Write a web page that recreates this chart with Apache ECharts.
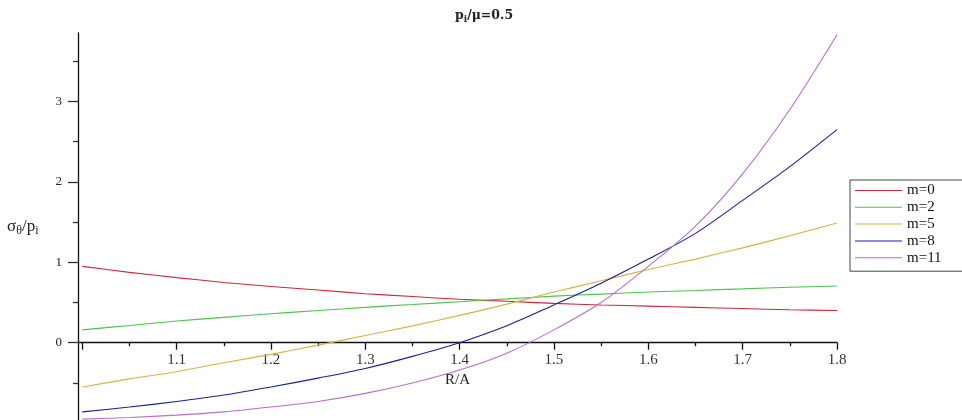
<!DOCTYPE html>
<html>
<head>
<meta charset="utf-8">
<script src="https://cdn.jsdelivr.net/npm/echarts@6/dist/echarts.min.js"></script>
<style>
  html, body { margin: 0; padding: 0; background: #fff; }
  #chart { width: 962px; height: 420px; }
</style>
</head>
<body>
<div id="chart"></div>
<script>
// Radius ratio R/A sampled along each curve
const rValues = [1.0, 1.05, 1.1, 1.15, 1.2, 1.25, 1.3, 1.35, 1.4, 1.45, 1.5, 1.55, 1.6, 1.65, 1.7, 1.75, 1.8];

// Hoop stress sigma_theta / p_i for each hardening exponent m
const m0  = [0.95, 0.875, 0.81, 0.75, 0.70, 0.655, 0.61, 0.575, 0.54, 0.515, 0.49, 0.47, 0.455, 0.44, 0.425, 0.41, 0.40];
const m2  = [0.16, 0.215, 0.27, 0.315, 0.36, 0.40, 0.44, 0.475, 0.51, 0.545, 0.58, 0.605, 0.63, 0.65, 0.67, 0.69, 0.705];
const m5  = [-0.55, -0.45, -0.36, -0.25, -0.145, -0.03, 0.09, 0.21, 0.34, 0.48, 0.63, 0.77, 0.91, 1.04, 1.18, 1.33, 1.49];
const m8  = [-0.86, -0.80, -0.73, -0.65, -0.55, -0.44, -0.32, -0.17, 0.0, 0.21, 0.47, 0.74, 1.04, 1.36, 1.77, 2.19, 2.65];
const m11 = [-0.95, -0.93, -0.90, -0.86, -0.80, -0.73, -0.63, -0.50, -0.34, -0.13, 0.16, 0.50, 0.95, 1.45, 2.10, 2.90, 3.83];

const seriesNames = ['m=0', 'm=2', 'm=5', 'm=8', 'm=11'];
const seriesValues = [m0, m2, m5, m8, m11];
const seriesColors = ['#d3263a', '#4ec24e', '#d6b244', '#1c1c9c', '#b66fcc'];

// Axis ticks and labels
const xMajorTicks = [1.0, 1.1, 1.2, 1.3, 1.4, 1.5, 1.6, 1.7, 1.8];
const xMinorTicks = [1.05, 1.15, 1.25, 1.35, 1.45, 1.55, 1.65, 1.75];
const xLabels = [1.1, 1.2, 1.3, 1.4, 1.5, 1.6, 1.7, 1.8];
const yMajorTicks = [0, 1, 2, 3];
const yMinorTicks = [-0.5, 0.5, 1.5, 2.5, 3.5];
const yLabels = [0, 1, 2, 3];

const SERIF = '"Liberation Serif", "DejaVu Serif", serif';
const TITLE_FONT = '"DejaVu Serif", "Liberation Serif", serif';
const X_MIN = 0.9955, X_MAX = 1.8;
const Y_MIN = -0.961, Y_MAX = 3.852;

// Plot frame: the curves live in grid 0; grid 1 ends exactly at the y = 0 line
// so the horizontal axis (ticks, labels and name) crosses the plot there.
const PLOT_TOP = 33, PLOT_BOTTOM = 0, PLOT_LEFT = 78, PLOT_RIGHT = 125;
const plotHeight = 420 - PLOT_TOP - PLOT_BOTTOM;
const zeroFromBottom = PLOT_BOTTOM + plotHeight * (0 - Y_MIN) / (Y_MAX - Y_MIN);

const chart = echarts.init(document.getElementById('chart'), null, { renderer: 'canvas' });

const series = seriesNames.map((name, i) => ({
  name: name,
  type: 'line',
  xAxisIndex: 0,
  yAxisIndex: 0,
  symbol: 'none',
  smooth: 0.3,
  animation: false,
  lineStyle: { color: seriesColors[i], width: 1.1 },
  itemStyle: { color: seriesColors[i] },
  data: rValues.map((r, k) => [r, seriesValues[i][k]])
}));

const axisInk = { color: '#111', width: 1.3 };

chart.setOption({
  animation: false,
  backgroundColor: '#ffffff',
  title: {
    text: '{p|p}{s|i}{p|/μ=0.5}',
    left: 455,
    top: 8,
    padding: 0,
    textStyle: {
      rich: {
        p: { fontFamily: TITLE_FONT, fontSize: 12.5, fontWeight: 'bold', color: '#222' },
        s: { fontFamily: TITLE_FONT, fontSize: 9, fontWeight: 'bold', color: '#222', padding: [7, 0, 0, 0] }
      }
    }
  },
  graphic: [{
    type: 'text',
    left: 7,
    top: 218,
    style: {
      text: '{a|σ}{b|θ}{a|/p}{b|i}',
      rich: {
        a: { fontFamily: SERIF, fontSize: 17, fill: '#222' },
        b: { fontFamily: SERIF, fontSize: 12, fill: '#222', padding: [8, 0, 0, 0] }
      }
    }
  }],
  legend: {
    orient: 'vertical',
    left: 850,
    top: 180,
    padding: [3, 24, 6, 5],
    icon: 'path://M0,0H470V10H0Z',
    symbolKeepAspect: true,
    itemWidth: 47,
    itemHeight: 14,
    itemGap: 1.8,
    itemTextGap: 6,
    borderColor: '#444',
    borderWidth: 1,
    backgroundColor: '#fff',
    textStyle: { fontFamily: SERIF, fontSize: 15, color: '#111', lineHeight: 14 },
    data: seriesNames
  },
  grid: [
    { left: PLOT_LEFT, right: PLOT_RIGHT, top: PLOT_TOP, bottom: PLOT_BOTTOM, outerBoundsMode: 'none' },
    { left: PLOT_LEFT, right: PLOT_RIGHT, top: PLOT_TOP, bottom: zeroFromBottom, outerBoundsMode: 'none' }
  ],
  xAxis: [{
    // data axis for the curves
    type: 'value',
    gridIndex: 0,
    min: X_MIN,
    max: X_MAX,
    show: false
  }, {
    type: 'value',
    gridIndex: 1,
    position: 'bottom',
    min: X_MIN,
    max: X_MAX,
    name: 'R/A',
    nameLocation: 'middle',
    nameGap: 24,
    nameTextStyle: { fontFamily: SERIF, fontSize: 15, color: '#222' },
    axisLine: { show: true, onZero: false, lineStyle: axisInk },
    axisTick: { show: true, length: 7, customValues: xMajorTicks, lineStyle: axisInk },
    axisLabel: {
      show: true,
      customValues: xLabels,
      margin: 10,
      fontFamily: SERIF,
      fontSize: 15,
      color: '#333',
      formatter: v => v.toFixed(1)
    },
    splitLine: { show: false }
  }, {
    type: 'value',
    gridIndex: 1,
    position: 'bottom',
    min: X_MIN,
    max: X_MAX,
    axisLine: { show: false, onZero: false },
    axisTick: { show: true, length: 3.5, customValues: xMinorTicks, lineStyle: axisInk },
    axisLabel: { show: false },
    splitLine: { show: false }
  }],
  yAxis: [{
    type: 'value',
    gridIndex: 0,
    position: 'left',
    min: Y_MIN,
    max: Y_MAX,
    axisLine: { show: true, onZero: false, lineStyle: axisInk },
    axisTick: { show: true, length: 10, customValues: yMajorTicks, lineStyle: { color: '#333', width: 1.3 } },
    axisLabel: {
      show: true,
      customValues: yLabels,
      margin: 16,
      fontFamily: SERIF,
      fontSize: 13,
      color: '#222',
      formatter: v => String(v)
    },
    splitLine: { show: false }
  }, {
    type: 'value',
    gridIndex: 0,
    position: 'left',
    min: Y_MIN,
    max: Y_MAX,
    axisLine: { show: false, onZero: false },
    axisTick: { show: true, length: 5, customValues: yMinorTicks, lineStyle: { color: '#333', width: 1.3 } },
    axisLabel: { show: false },
    splitLine: { show: false }
  }, {
    type: 'value',
    gridIndex: 1,
    min: 0,
    max: Y_MAX,
    show: false
  }],
  series: series
});
</script>
</body>
</html>
